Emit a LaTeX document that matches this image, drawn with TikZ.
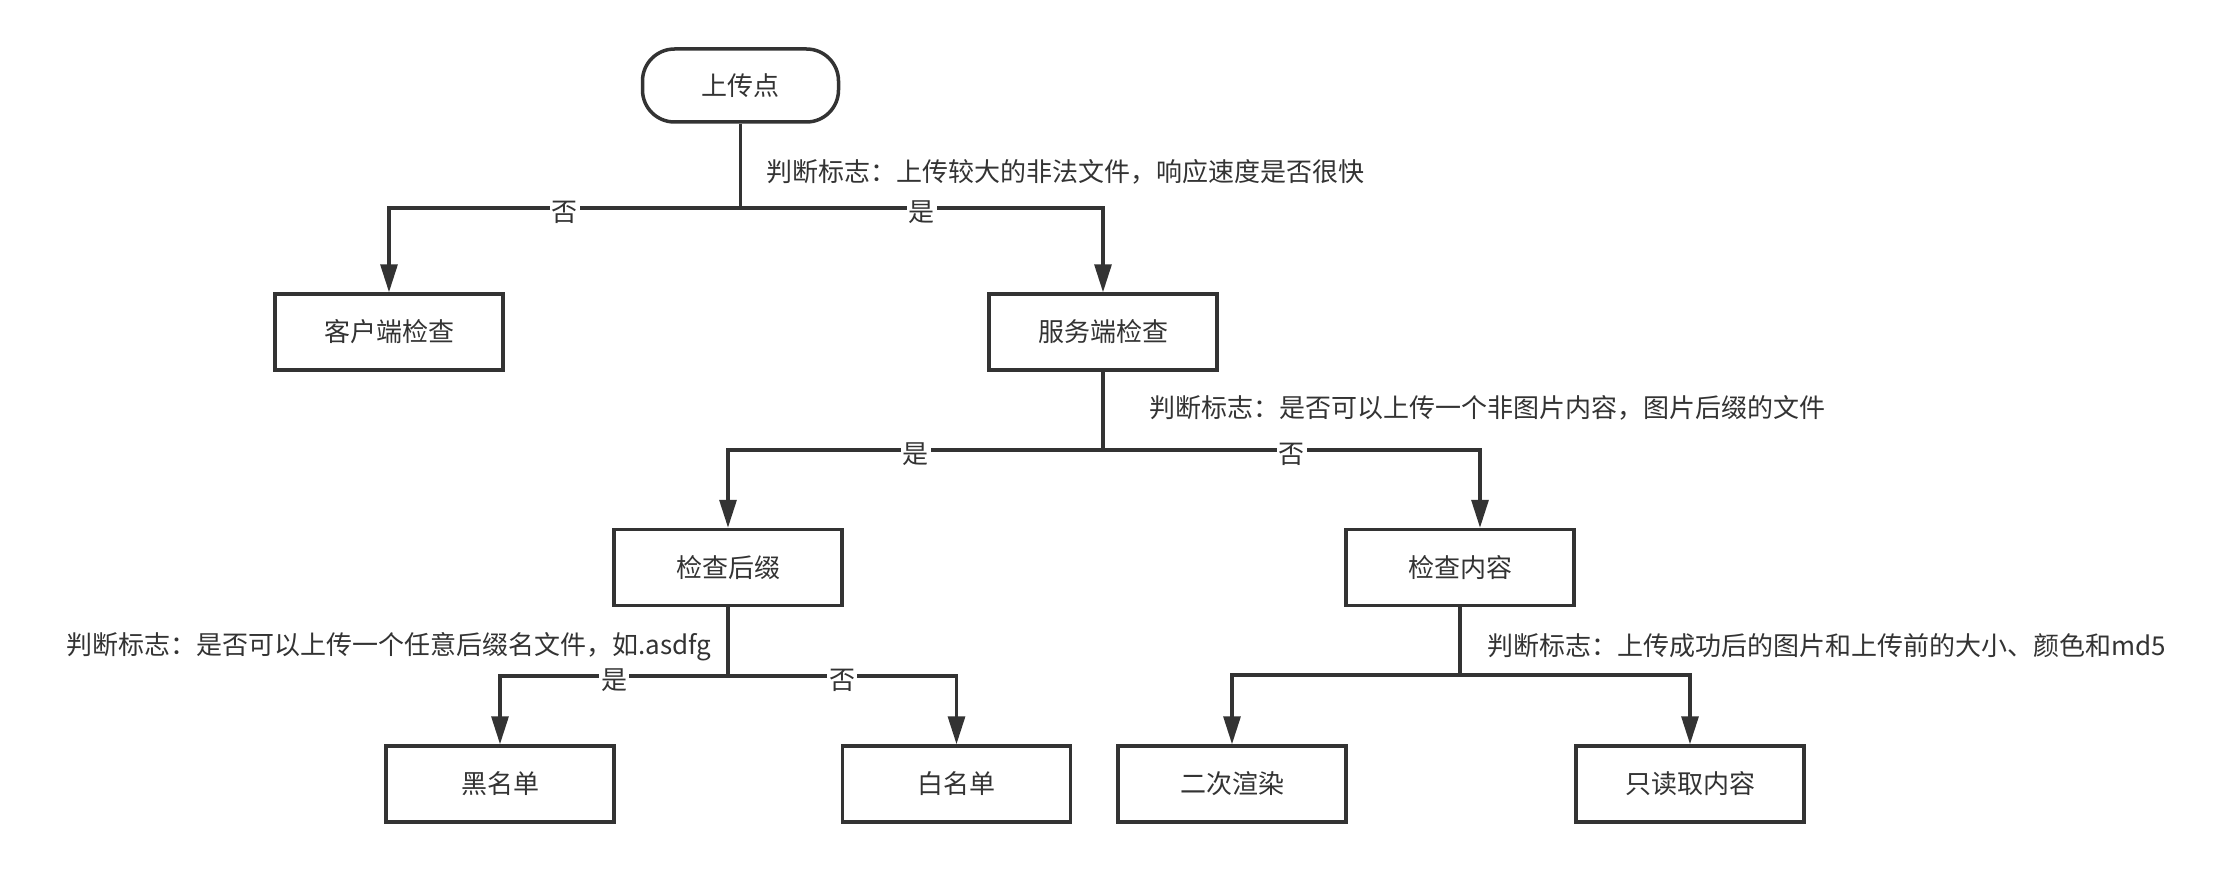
\documentclass[tikz,border=0pt]{standalone}
\usepackage{fontspec}
\setmainfont{Noto Sans CJK SC}
\usetikzlibrary{arrows.meta}
\definecolor{ink}{HTML}{333333}
\begin{document}
\begin{tikzpicture}[x=0.5pt,y=-0.5pt,
  every node/.style={font=\fontsize{13pt}{15.5pt}\selectfont, text=ink},
  box/.style={draw=ink, line width=1.75pt, minimum width=114pt, minimum height=38pt, inner sep=0pt, fill=white},
  startbox/.style={box, rounded corners=16pt, minimum width=98pt, minimum height=36.5pt},
  trunk/.style={draw=ink, line width=1.6pt},
  conn/.style={trunk, -{Triangle[length=14pt,width=8.5pt]}},
  yesno/.style={fill=white, inner sep=1pt, yshift=-2pt},
  note/.style={anchor=west, inner sep=0pt}]
\useasboundingbox (0,0) rectangle (2238,872);

% boxes
\node[startbox] (start) at (740.5,85.5) {上传点};
\node[box] (client) at (389,332) {客户端检查};
\node[box] (server) at (1103,332) {服务端检查};
\node[box] (suffix) at (728,567.5) {检查后缀};
\node[box] (content) at (1460,567.5) {检查内容};
\node[box] (black) at (500,784) {黑名单};
\node[box] (white) at (956.5,784) {白名单};
\node[box] (rerender) at (1232,784) {二次渲染};
\node[box] (readonly) at (1690,784) {只读取内容};

% decision notes
\node[note] (n1) at (766,172) {判断标志：上传较大的非法文件，响应速度是否很快};
\node[note] (n2) at (1149,408) {判断标志：是否可以上传一个非图片内容，图片后缀的文件};
\node[note] (n3) at (66,647) {判断标志：是否可以上传一个任意后缀名文件，如.asdfg};
\node[note] (n4) at (1487,646) {判断标志：上传成功后的图片和上传前的大小、颜色和md5};

% branch points
\coordinate (j1) at (740.5,208);
\coordinate (j2) at (1103,450);
\coordinate (j3) at (728,676);
\coordinate (j4) at (1460,675);

% connectors
\draw[trunk] (start) -- (j1);
\draw[conn] (j1) -| node[yesno,pos=0.25]{否} (client);
\draw[conn] (j1) -| node[yesno,pos=0.25]{是} (server);

\draw[trunk] (server) -- (j2);
\draw[conn] (j2) -| node[yesno,pos=0.25]{是} (suffix);
\draw[conn] (j2) -| node[yesno,pos=0.25]{否} ([xshift=10pt]content.north);

\draw[trunk] (suffix) -- (j3);
\draw[conn] (j3) -| node[yesno,pos=0.25]{是} (black);
\draw[conn] (j3) -| node[yesno,pos=0.25]{否} (white);

\draw[trunk] (content) -- (j4);
\draw[conn] (j4) -| (rerender);
\draw[conn] (j4) -| (readonly);
\end{tikzpicture}
\end{document}
